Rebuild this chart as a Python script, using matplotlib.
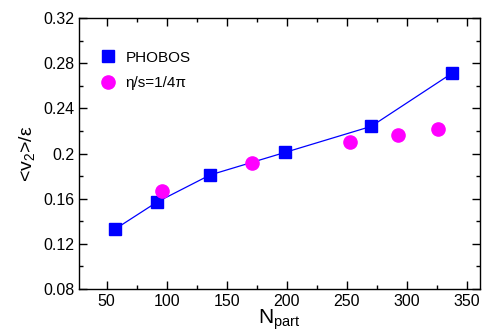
import matplotlib
matplotlib.use("Agg")
import matplotlib.pyplot as plt
from matplotlib.lines import Line2D
from matplotlib.ticker import MultipleLocator, FuncFormatter

plt.rcParams['font.family'] = ['Liberation Sans', 'DejaVu Sans']
plt.rcParams['mathtext.fontset'] = 'custom'
plt.rcParams['mathtext.rm'] = 'Liberation Sans'
plt.rcParams['mathtext.it'] = 'Liberation Sans'

# PHOBOS data
phobos_npart = [56.9, 91.9, 136.1, 198.6, 270.2, 337.5]
phobos_v2e = [0.133, 0.157, 0.181, 0.201, 0.224, 0.271]

# hydro, eta/s = 1/4pi
hydro_npart = [96.3, 171.3, 252.7, 292.2, 325.8]
hydro_v2e = [0.167, 0.192, 0.210, 0.216, 0.222]

fig = plt.figure(figsize=(4.85, 3.33), dpi=100)
ax = fig.add_axes([0.163, 0.132, 0.827, 0.814])

ax.plot(phobos_npart, phobos_v2e, color='blue', lw=0.9, marker='s', ms=8.5,
        mec='blue', mfc='blue')
ax.plot(hydro_npart, hydro_v2e, ls='none', marker='o', ms=9.5,
        mec='magenta', mfc='magenta')

ax.set_xlim(27, 361)
ax.set_ylim(0.08, 0.32)
ax.xaxis.set_major_locator(MultipleLocator(50))
ax.xaxis.set_minor_locator(MultipleLocator(25))
ax.yaxis.set_major_locator(MultipleLocator(0.04))
ax.yaxis.set_minor_locator(MultipleLocator(0.02))
ax.yaxis.set_major_formatter(FuncFormatter(lambda v, p: f"{v:.2f}".rstrip('0')))

ax.tick_params(which='both', direction='in', top=True, right=True, labelsize=11.5)
ax.tick_params(which='major', length=6, width=1)
ax.tick_params(which='minor', length=3, width=1)
for s in ax.spines.values():
    s.set_linewidth(1)

ax.set_xlabel(r'N$_{\mathregular{part}}$', fontsize=15, labelpad=-1)
ax.set_ylabel(r'<v$_{\mathregular{2}}$>/ε', fontsize=14, labelpad=4)

handles = [
    Line2D([], [], ls='none', marker='s', ms=8.5, mec='blue', mfc='blue', label='PHOBOS'),
    Line2D([], [], ls='none', marker='o', ms=9.5, mec='magenta', mfc='magenta', label='η/s=1/4π'),
]
ax.legend(handles=handles, loc='upper left', bbox_to_anchor=(0.02, 0.93), frameon=False,
          fontsize=11, handlelength=1.0, handletextpad=0.6, labelspacing=0.75)

fig.savefig('out.png', dpi=100)
